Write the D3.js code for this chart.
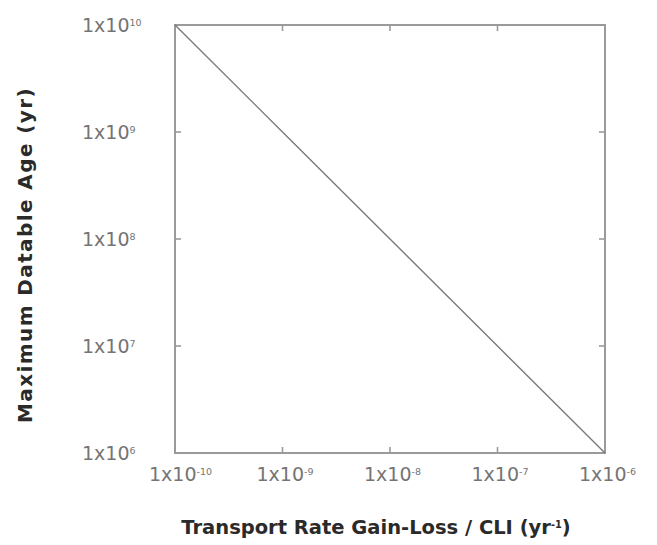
<!DOCTYPE html>
<html>
<head>
<meta charset="utf-8">
<script src="https://cdn.jsdelivr.net/npm/d3@7"></script>
<style>
  body { margin: 0; background: #fff; }
  svg { display: block; font-family: "DejaVu Sans", sans-serif; }
</style>
</head>
<body>
<svg id="chart" width="657" height="545"></svg>
<script>
// transport rate (yr^-1) vs maximum datable age (yr)
const rate = [1e-10, 1e-9, 1e-8, 1e-7, 1e-6];
const age = [1e10, 1e9, 1e8, 1e7, 1e6];
const xTicks = [-10, -9, -8, -7, -6];
const yTicks = [10, 9, 8, 7, 6];

const svg = d3.select("#chart");
const margin = { top: 25, right: 52, bottom: 92, left: 175 };
const width = 657, height = 545;

const x = d3.scaleLog()
  .domain([1e-10, 1e-6])
  .range([margin.left, width - margin.right]);

const y = d3.scaleLog()
  .domain([1e6, 1e10])
  .range([height - margin.bottom, margin.top]);

const boxColor = "#9a9a9a";
const labelColor = "#747474";

// superscript tick label
function powLabel(sel, e) {
  sel.text(null);
  sel.append("tspan").text("1x10");
  sel.append("tspan")
    .attr("dy", "-0.6em")
    .attr("font-size", "0.5em")
    .text(e);
}

// frame
svg.append("rect")
  .attr("x", x.range()[0])
  .attr("y", y.range()[1])
  .attr("width", x.range()[1] - x.range()[0])
  .attr("height", y.range()[0] - y.range()[1])
  .attr("fill", "none")
  .attr("stroke", boxColor)
  .attr("stroke-width", 2);

const inner = d => d !== xTicks[0] && d !== xTicks[xTicks.length - 1];
const tickLen = 6;

// inward ticks on all four sides
const tg = svg.append("g").attr("stroke", boxColor).attr("stroke-width", 1.6);
xTicks.filter(inner).forEach(e => {
  const px = x(Math.pow(10, e));
  tg.append("line").attr("x1", px).attr("x2", px)
    .attr("y1", y.range()[0]).attr("y2", y.range()[0] - tickLen);
  tg.append("line").attr("x1", px).attr("x2", px)
    .attr("y1", y.range()[1]).attr("y2", y.range()[1] + tickLen);
});
yTicks.filter(d => d !== 10 && d !== 6).forEach(e => {
  const py = y(Math.pow(10, e));
  tg.append("line").attr("y1", py).attr("y2", py)
    .attr("x1", x.range()[0]).attr("x2", x.range()[0] + tickLen);
  tg.append("line").attr("y1", py).attr("y2", py)
    .attr("x1", x.range()[1]).attr("x2", x.range()[1] - tickLen);
});

// x tick labels: base centred on tick
svg.append("g")
  .selectAll("text")
  .data(xTicks)
  .join("text")
  .attr("x", d => x(Math.pow(10, d)) - 26)
  .attr("y", y.range()[0] + 28)
  .attr("font-size", 19)
  .attr("fill", labelColor)
  .each(function (d) { powLabel(d3.select(this), d); });

// y tick labels: left aligned column
svg.append("g")
  .selectAll("text")
  .data(yTicks)
  .join("text")
  .attr("x", 82)
  .attr("y", d => y(Math.pow(10, d)) + 7)
  .attr("font-size", 19)
  .attr("fill", labelColor)
  .each(function (d) { powLabel(d3.select(this), d); });

// the 1:1 line
const line = d3.line()
  .x(d => x(d[0]))
  .y(d => y(d[1]));

svg.append("path")
  .datum(d3.zip(rate, age))
  .attr("d", line)
  .attr("fill", "none")
  .attr("stroke", "#7a7a7a")
  .attr("stroke-width", 1.4);

// axis titles
const xt = svg.append("text")
  .attr("x", 376)
  .attr("y", 534)
  .attr("text-anchor", "middle")
  .attr("font-size", 19.5)
  .attr("font-weight", "bold")
  .attr("fill", "#2a2a2a");
xt.append("tspan").text("Transport Rate Gain-Loss / CLI (yr");
xt.append("tspan").attr("dy", "-0.6em").attr("font-size", "0.5em").text("-1");
xt.append("tspan").attr("dy", "0.3em").text(")");

svg.append("text")
  .attr("transform", "translate(32,255) rotate(-90)")
  .attr("text-anchor", "middle")
  .attr("font-size", 20)
  .attr("letter-spacing", 1.4)
  .attr("font-weight", "bold")
  .attr("fill", "#2a2a2a")
  .text("Maximum Datable Age (yr)");
</script>
</body>
</html>
